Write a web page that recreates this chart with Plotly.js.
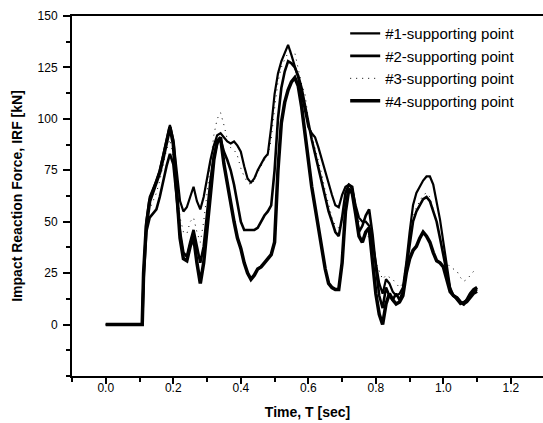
<!DOCTYPE html>
<html>
<head>
<meta charset="utf-8">
<script src="https://cdn.plot.ly/plotly-3.0.1.min.js"></script>
<style>html,body{margin:0;padding:0;background:#fff;overflow:hidden}</style>
</head>
<body>
<div id="chart" style="width:543px;height:423px"></div>
<script>
// Time axis [sec]
var time = [0, 0.108, 0.112, 0.12, 0.13, 0.14, 0.15, 0.16, 0.17, 0.18, 0.19,
  0.20, 0.21, 0.22, 0.23, 0.24, 0.25, 0.26, 0.27, 0.28, 0.29, 0.30, 0.31, 0.32, 0.33, 0.34,
  0.35, 0.36, 0.37, 0.38, 0.39, 0.40, 0.41, 0.42, 0.43, 0.44, 0.45, 0.46, 0.47, 0.48, 0.49,
  0.50, 0.51, 0.52, 0.53, 0.54, 0.55, 0.56, 0.57, 0.58, 0.59, 0.60, 0.61, 0.62, 0.63, 0.64, 0.65, 0.66, 0.67, 0.68, 0.69,
  0.70, 0.71, 0.72, 0.73, 0.74, 0.75, 0.76, 0.77, 0.78,
  0.79, 0.80, 0.81, 0.82, 0.83, 0.84, 0.85, 0.86, 0.87, 0.88, 0.89,
  0.90, 0.91, 0.92, 0.93, 0.94, 0.95, 0.96, 0.97, 0.98, 0.99, 1.00, 1.01, 1.02, 1.03, 1.04, 1.05, 1.06, 1.07, 1.08, 1.09, 1.10];

// Impact reaction force [kN] per supporting point
var point1 = [0, 0, 25, 50, 62, 66, 70, 75, 82, 90, 97,
  90, 74, 60, 55, 57, 62, 67, 60, 56, 62, 72, 80, 87, 92, 93,
  91, 89, 88, 89, 87, 84, 77, 71, 69, 71, 75, 78, 81, 83, 96,
  112, 122, 128, 132, 136, 131, 126, 120, 112, 103, 96, 93, 91, 86, 80, 74, 69, 63, 58, 57,
  63, 67, 68, 66, 58, 52, 50, 50, 48,
  40, 30, 20, 15, 22, 20, 16, 14, 15, 18, 30,
  45, 58, 64, 67, 70, 72, 72, 68, 60, 51, 40, 30, 18, 14, 12, 10, 11, 12, 14, 16, 17];

var point2 = [0, 0, 22, 45, 52, 54, 56, 62, 70, 77, 83,
  78, 62, 45, 35, 33, 40, 46, 38, 30, 38, 55, 70, 82, 88, 90,
  84, 80, 75, 68, 58, 50, 46, 46, 46, 46, 47, 50, 53, 55, 58,
  75, 100, 115, 123, 128, 127, 125, 121, 115, 106, 97, 90, 83, 76, 70, 62, 55, 50, 45, 43,
  52, 64, 68, 67, 55, 45, 48, 53, 56,
  44, 28, 14, 8, 18, 14, 12, 15, 12, 16, 28,
  40, 50, 55, 58, 61, 62, 60, 55, 50, 42, 33, 24, 17, 14, 13, 11, 10, 11, 13, 15, 16];

var point3 = [0, 0, 24, 47, 56, 60, 64, 70, 77, 85, 90,
  82, 68, 52, 45, 44, 50, 52, 45, 40, 50, 65, 80, 92, 100, 103,
  97, 90, 86, 85, 82, 76, 72, 69, 68, 70, 74, 77, 80, 82, 90,
  105, 118, 125, 129, 132, 133, 132, 124, 117, 112, 100, 92, 86, 80, 73, 65, 58, 52, 48, 47,
  50, 62, 65, 62, 56, 50, 47, 45, 42,
  35, 30, 26, 22, 24, 23, 22, 20, 18, 20, 30,
  42, 52, 57, 60, 63, 64, 62, 56, 50, 43, 36, 30, 28, 27, 26, 23, 21, 22, 24, 26, 27];

var point4 = [0, 0, 25, 48, 60, 65, 69, 74, 81, 89, 96,
  88, 65, 42, 32, 31, 38, 43, 30, 20, 30, 48, 65, 80, 89, 91,
  78, 68, 58, 50, 42, 37, 30, 25, 22, 24, 27, 28, 30, 32, 34,
  40, 75, 98, 108, 114, 118, 120, 116, 106, 93, 78, 67, 57, 47, 37, 27, 20, 18, 17, 17,
  30, 55, 66, 64, 54, 43, 40, 45, 47,
  30, 15, 5, 0, 10, 15, 12, 10, 11, 14, 25,
  32, 36, 38, 42, 45, 43, 40, 35, 31, 30, 28, 22, 16, 14, 13, 11, 10, 12, 15, 17, 18];

var seriesNames = ['#1-supporting point', '#2-supporting point', '#3-supporting point', '#4-supporting point'];
var xTicks = [0, 0.2, 0.4, 0.6, 0.8, 1.0, 1.2];
var yTicks = [0, 25, 50, 75, 100, 125, 150];

var FONT = 'Liberation Sans, Arial, sans-serif';
var lineStyles = [
  {color: '#000', width: 2.2},
  {color: '#000', width: 2.6},
  {color: '#000', width: 1, dash: '1px,5px'},
  {color: '#000', width: 3.5}
];
var ys = [point1, point2, point3, point4];
var traces = ys.map(function (y, i) {
  return {x: time, y: y, type: 'scatter', mode: 'lines', name: seriesNames[i], line: lineStyles[i]};
});

var axisCommon = {
  showline: true, linecolor: '#000', linewidth: 2,
  ticks: 'outside', tickcolor: '#000', tickwidth: 2,
  showgrid: false, zeroline: false,
  tickfont: {family: FONT, size: 12, color: '#000'}
};

var layout = {
  width: 543, height: 423,
  margin: {l: 72, r: 0, t: 16, b: 47},
  paper_bgcolor: '#fff', plot_bgcolor: '#fff',
  showlegend: true,
  legend: {x: 0.58, y: 0.997, xanchor: 'left', yanchor: 'top', bgcolor: 'rgba(0,0,0,0)',
           font: {family: FONT, size: 15, color: '#000'}},
  xaxis: Object.assign({}, axisCommon, {
    range: [-0.1, 1.295], mirror: true, ticklen: 6, ticklabelstandoff: -6,
    tickmode: 'array', tickvals: xTicks, ticktext: xTicks.map(function (v) { return v.toFixed(1); }),
    minor: {dtick: 0.1, tick0: 0, ticks: 'outside', ticklen: 4, tickwidth: 2, tickcolor: '#000'},
    title: {text: '<b>Time, T [sec]</b>', font: {family: FONT, size: 14, color: '#000'}, standoff: 13}
  }),
  yaxis: Object.assign({}, axisCommon, {
    range: [-25, 150], ticklen: 7, ticklabelstandoff: 3,
    tickmode: 'array', tickvals: yTicks,
    minor: {dtick: 12.5, tick0: 0, ticks: 'outside', ticklen: 4, tickwidth: 2, tickcolor: '#000'},
    title: {text: '<b>Impact Reaction Force, IRF [kN]</b>', font: {family: FONT, size: 14, color: '#000'}, standoff: 12}
  })
};

Plotly.newPlot('chart', traces, layout, {displayModeBar: false, staticPlot: true});
</script>
</body>
</html>
